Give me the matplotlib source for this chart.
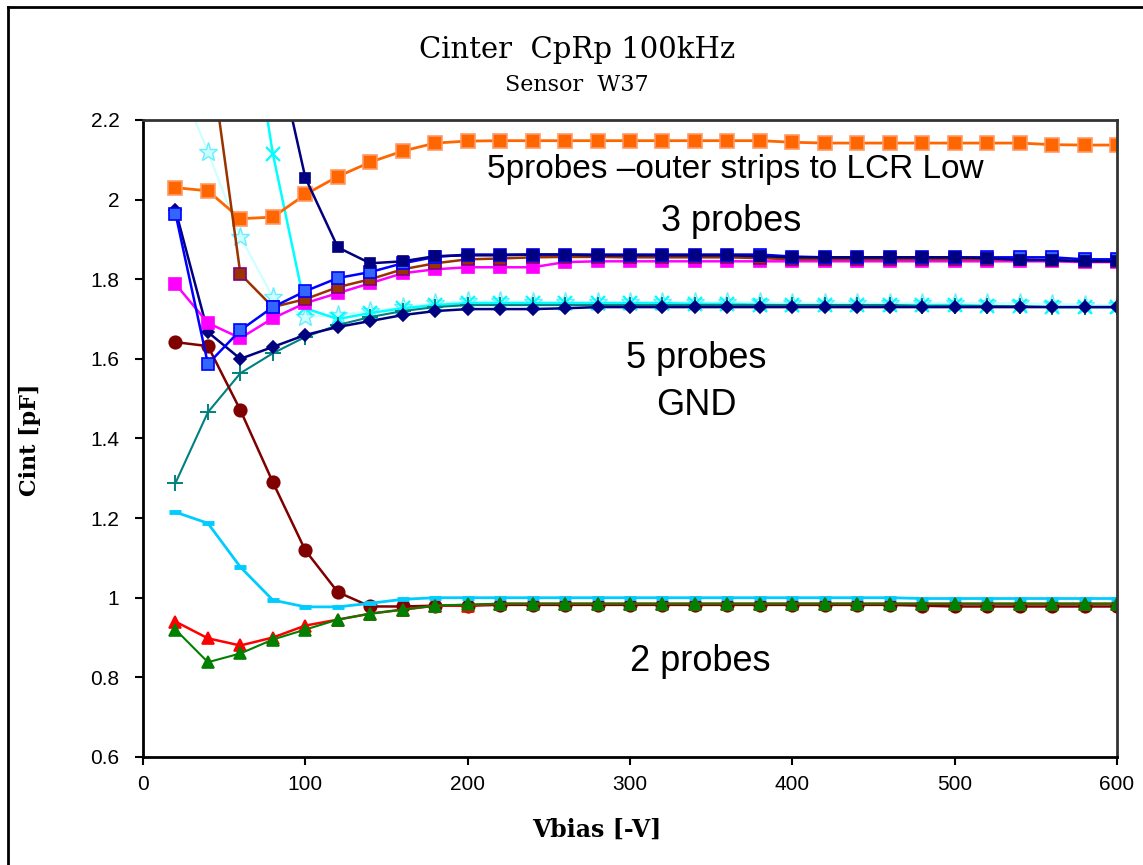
import matplotlib
matplotlib.use("Agg")
import matplotlib.pyplot as plt
from matplotlib.lines import Line2D

vbias = [20, 40, 60, 80, 100, 120, 140, 160, 180, 200, 220, 240, 260, 280, 300,
         320, 340, 360, 380, 400, 420, 440, 460, 480, 500, 520, 540, 560, 580, 600]

# 5 probes - outer strips to LCR Low
orange_sq = [2.03, 2.022, 1.952, 1.956, 2.013, 2.058, 2.094, 2.122, 2.142, 2.147, 2.148, 2.148,
             2.148, 2.148, 2.148, 2.148, 2.148, 2.148, 2.148, 2.144, 2.142, 2.142, 2.142, 2.142,
             2.142, 2.142, 2.142, 2.138, 2.137, 2.137]
# 3 probes
navy_sq = [4.0, 3.6, 3.0, 2.42, 2.055, 1.88, 1.84, 1.845, 1.858, 1.86, 1.86, 1.862, 1.862, 1.86,
           1.86, 1.86, 1.86, 1.86, 1.858, 1.855, 1.855, 1.855, 1.855, 1.855, 1.855, 1.853, 1.848,
           1.848, 1.845, 1.845]
brown_sq = [3.0, 2.41, 1.813, 1.73, 1.75, 1.78, 1.80, 1.825, 1.84, 1.85, 1.852, 1.855, 1.856,
            1.856, 1.855, 1.855, 1.855, 1.855, 1.853, 1.85, 1.85, 1.85, 1.85, 1.85, 1.85, 1.85,
            1.85, 1.848, 1.846, 1.845]
blue_sq = [1.965, 1.587, 1.672, 1.73, 1.77, 1.803, 1.818, 1.84, 1.856, 1.862, 1.862, 1.862, 1.862,
           1.862, 1.862, 1.862, 1.862, 1.862, 1.862, 1.857, 1.855, 1.855, 1.855, 1.855, 1.855,
           1.855, 1.855, 1.855, 1.85, 1.85]
magenta_sq = [1.788, 1.69, 1.652, 1.702, 1.74, 1.765, 1.79, 1.815, 1.825, 1.83, 1.83, 1.83, 1.843,
              1.845, 1.845, 1.845, 1.845, 1.845, 1.845, 1.845, 1.845, 1.845, 1.845, 1.845, 1.845,
              1.845, 1.845, 1.845, 1.843, 1.843]
# 5 probes GND
navy_dia = [1.974, 1.667, 1.60, 1.63, 1.66, 1.68, 1.695, 1.71, 1.72, 1.725, 1.725, 1.725, 1.727,
            1.73, 1.73, 1.73, 1.73, 1.73, 1.73, 1.73, 1.73, 1.73, 1.73, 1.73, 1.73, 1.73, 1.73,
            1.73, 1.73, 1.73]
teal_plus = [1.288, 1.466, 1.564, 1.614, 1.655, 1.685, 1.705, 1.72, 1.73, 1.735, 1.735, 1.735,
             1.735, 1.735, 1.735, 1.735, 1.735, 1.735, 1.735, 1.735, 1.735, 1.735, 1.735, 1.733,
             1.733, 1.733, 1.732, 1.73, 1.73, 1.73]
lcyan_star = [2.32, 2.12, 1.906, 1.755, 1.705, 1.71, 1.72, 1.73, 1.74, 1.745, 1.745, 1.743,
              1.742, 1.742, 1.742, 1.742, 1.742, 1.742, 1.742, 1.74, 1.74, 1.74, 1.74, 1.74,
              1.74, 1.74, 1.74, 1.738, 1.736, 1.735]
cyan_x = [3.2, 2.63, 2.63, 2.115, 1.727, 1.70, 1.715, 1.727, 1.735, 1.74, 1.74, 1.74, 1.74, 1.74,
          1.74, 1.74, 1.738, 1.738, 1.736, 1.735, 1.735, 1.735, 1.735, 1.735, 1.735, 1.733,
          1.732, 1.73, 1.73, 1.73]
# 2 probes
maroon_ci = [1.642, 1.632, 1.471, 1.29, 1.119, 1.014, 0.978, 0.978, 0.98, 0.98, 0.982, 0.982,
             0.982, 0.982, 0.982, 0.982, 0.982, 0.982, 0.982, 0.982, 0.982, 0.982, 0.982, 0.98,
             0.978, 0.978, 0.978, 0.978, 0.978, 0.978]
sky_dash = [1.215, 1.187, 1.077, 0.994, 0.977, 0.977, 0.986, 0.996, 1.0, 1.0, 1.0, 1.0, 1.0, 1.0,
            1.0, 1.0, 1.0, 1.0, 1.0, 1.0, 1.0, 1.0, 1.0, 0.998, 0.998, 0.998, 0.998, 0.998,
            0.998, 0.998]
red_tri = [0.94, 0.898, 0.88, 0.90, 0.93, 0.945, 0.96, 0.97, 0.98, 0.98, 0.985, 0.985, 0.985,
           0.985, 0.985, 0.985, 0.985, 0.985, 0.985, 0.985, 0.985, 0.985, 0.985, 0.985, 0.985,
           0.985, 0.985, 0.985, 0.985, 0.985]
green_tri = [0.92, 0.838, 0.86, 0.895, 0.92, 0.945, 0.96, 0.97, 0.98, 0.983, 0.985, 0.985, 0.985,
             0.985, 0.985, 0.985, 0.985, 0.985, 0.985, 0.985, 0.985, 0.985, 0.985, 0.985, 0.985,
             0.985, 0.985, 0.985, 0.985, 0.985]

xticks = [0, 100, 200, 300, 400, 500, 600]
yticks = [0.6, 0.8, 1.0, 1.2, 1.4, 1.6, 1.8, 2.0, 2.2]
yticklabels = ["0.6", "0.8", "1", "1.2", "1.4", "1.6", "1.8", "2", "2.2"]

fig = plt.figure(figsize=(11.43, 8.65), dpi=100)
ax = fig.add_axes([0.1251, 0.1249, 0.9773 - 0.1251, 0.8613 - 0.1249])

series = [
    (lcyan_star, "#CCFFFF", "*", "#CCFFFF", "#66EEFF", 14, 1.5, 1.0),
    (cyan_x, "#00FFFF", "x", "#00FFFF", "#00FFFF", 10, 1.8, 1.6),
    (teal_plus, "#008080", "+", "#008080", "#008080", 11, 1.5, 1.4),
    (navy_dia, "#000080", "D", "#000080", "#000080", 6, 1.8, 1.2),
    (maroon_ci, "#800000", "o", "#800000", "#800000", 9, 1.8, 1.2),
    (sky_dash, "#00CCFF", "_", "#00CCFF", "#00CCFF", 8, 2.0, 3.5),
    (red_tri, "#FF0000", "^", "#FF0000", "#FF0000", 9, 1.8, 1.2),
    (green_tri, "#008000", "^", "#008000", "#008000", 9, 1.5, 1.2),
    (orange_sq, "#FF6600", "s", "#FF6600", "#FF9966", 10, 2.0, 1.2),
    (magenta_sq, "#FF00FF", "s", "#FF00FF", "#FF00FF", 8, 1.8, 1.2),
    (brown_sq, "#993300", "s", "#993300", "#800080", 8, 1.8, 1.2),
    (blue_sq, "#0000FF", "s", "#3366FF", "#0000FF", 8, 1.8, 1.2),
    (navy_sq, "#000080", "s", "#000080", "#000080", 7, 1.8, 1.2),
]
for vals, c, m, fc, ec, ms, lw, mew in series:
    ax.plot(vbias, vals, color=c, marker=m, markerfacecolor=fc, markeredgecolor=ec,
            markersize=ms, linewidth=lw, markeredgewidth=mew, clip_on=True)

ax.set_xlim(0, 600)
ax.set_ylim(0.6, 2.2)
ax.set_xticks(xticks)
ax.set_yticks(yticks)
ax.set_yticklabels(yticklabels)
ax.tick_params(direction="out", length=6, width=1.5, labelsize=15)
ax.tick_params(axis="y", pad=11)
ax.tick_params(axis="x", pad=7)
for lab in ax.get_xticklabels() + ax.get_yticklabels():
    lab.set_fontfamily("Liberation Sans")
for s in ["left", "bottom"]:
    ax.spines[s].set_color("black")
    ax.spines[s].set_linewidth(2)
for s in ["top", "right"]:
    ax.spines[s].set_color("#333333")
    ax.spines[s].set_linewidth(2)

fig.text(597 / 1143, 1 - 830 / 865, "Vbias [-V]", ha="center", va="center", fontsize=17,
         fontweight="bold", family="DejaVu Serif")
fig.text(30 / 1143, 1 - 440 / 865, "Cint [pF]", ha="center", va="center", fontsize=16,
         fontweight="bold", family="DejaVu Serif", rotation=90)

fig.text(577 / 1143, 1 - 50 / 865, "Cinter  CpRp 100kHz", ha="center", va="center", fontsize=21,
         family="DejaVu Serif")
fig.text(577 / 1143, 1 - 85 / 865, "Sensor  W37", ha="center", va="center", fontsize=16,
         family="DejaVu Serif")

tf = dict(family="Liberation Sans", ha="center", va="center")
ax.text(365, 2.075, "5probes \u2013outer strips to LCR Low", fontsize=24, **tf)
ax.text(362, 1.946, "3 probes", fontsize=26, **tf)
ax.text(341, 1.602, "5 probes", fontsize=26, **tf)
ax.text(341, 1.484, "GND", fontsize=26, **tf)
ax.text(343, 0.84, "2 probes", fontsize=26, **tf)

# outer figure frame
fig.add_artist(Line2D([8 / 1143, 8 / 1143], [0, 1 - 7 / 865], transform=fig.transFigure,
                      color="black", linewidth=2))
fig.add_artist(Line2D([8 / 1143, 1], [1 - 7 / 865, 1 - 7 / 865], transform=fig.transFigure,
                      color="black", linewidth=2))

fig.savefig("out.png", dpi=100)
